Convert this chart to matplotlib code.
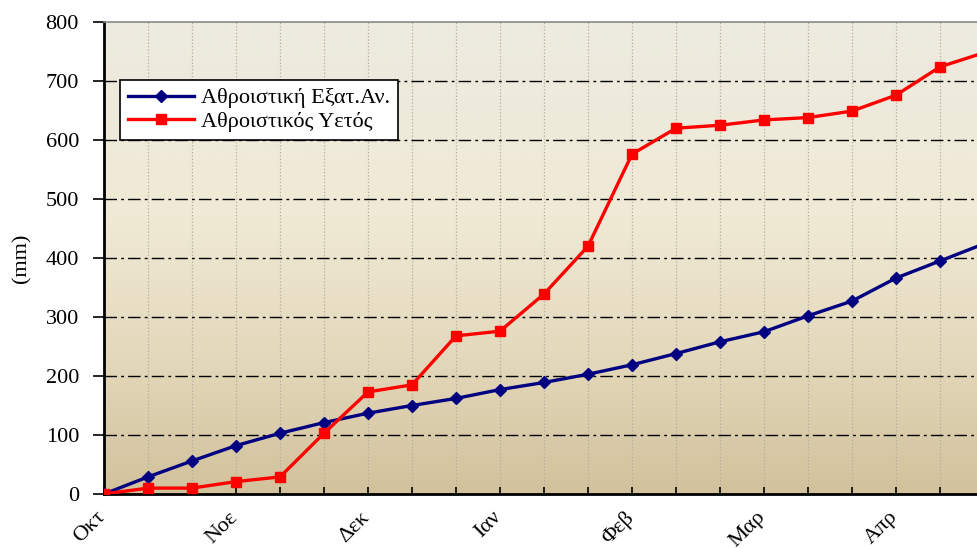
import numpy as np
import matplotlib
matplotlib.use('Agg')
import matplotlib.pyplot as plt
from matplotlib.colors import LinearSegmentedColormap
from matplotlib.transforms import ScaledTranslation

# cumulative values, one point every 10 days from 1 Oct
evap = [0, 29, 56, 82, 103, 121, 137, 150, 162, 177, 189, 203, 219, 238,
        258, 275, 302, 327, 366, 395, 424]
rain = [0, 10, 10, 21, 29, 103, 173, 185, 268, 276, 339, 420, 576, 620,
        625, 634, 638, 649, 676, 724, 748]
months = ['Οκτ', 'Νοε', 'Δεκ', 'Ιαν', 'Φεβ', 'Μαρ', 'Απρ']
lbl_evap = 'Αθροιστική Εξατ.Αν.'
lbl_rain = 'Αθροιστικός Υετός'

plt.rcParams['font.family'] = ['Liberation Serif', 'DejaVu Serif']

fig = plt.figure(figsize=(9.77, 5.49), dpi=100)
ax = fig.add_axes([104/977, 55/549, 873/977, 472/549])

x = np.arange(len(evap))
xmax = 873/44.0

# background gradient
cmap = LinearSegmentedColormap.from_list('bg', [(0.0, '#D2C29C'), (0.3, '#E4D9BC'),
                                                (0.6, '#F0EAD6'), (1.0, '#EDEAE0')])
grad = np.linspace(0, 1, 256).reshape(-1, 1)
ax.imshow(grad, extent=[0, xmax, 0, 800], origin='lower', aspect='auto',
          cmap=cmap, zorder=0)

for xi in x[1:]:
    ax.axvline(xi, color='#B5AE9E', linestyle=':', linewidth=0.9, zorder=1)
for yv in range(100, 800, 100):
    ax.axhline(yv, color='black', linestyle=(0, (9, 3, 2, 3)), linewidth=1.0, zorder=1)

ax.plot(x, evap, color='#000080', marker='D', markersize=6.5, linewidth=2.4,
        label=lbl_evap, zorder=3)
ax.plot(x, rain, color='#FF0000', marker='s', markersize=7, linewidth=2.4,
        label=lbl_rain, zorder=4)

ax.set_xlim(0, xmax)
ax.set_ylim(0, 800)
ax.set_yticks(range(0, 801, 100))
ax.set_xticks(x[:20])
ax.set_xticklabels([months[i // 3] if i % 3 == 0 else '' for i in range(20)],
                   rotation=45, ha='right', va='top', rotation_mode='anchor')
ax.tick_params(axis='x', direction='in', length=5, width=1.2, labelsize=16, pad=10)
ax.tick_params(axis='y', direction='out', length=8, width=1.2, labelsize=16, pad=10)
shift = ScaledTranslation(-8/100, 0, fig.dpi_scale_trans)
for t in ax.get_xticklabels():
    t.set_transform(t.get_transform() + shift)

ax.spines['right'].set_visible(False)
ax.spines['top'].set_color('#888888')
ax.spines['top'].set_linewidth(1.2)
ax.spines['left'].set_linewidth(2)
ax.spines['bottom'].set_linewidth(2)

ax.set_ylabel('(mm)', fontsize=16, labelpad=10)

leg = ax.legend(loc='upper left', bbox_to_anchor=(16/873, 1 - 58/472),
                fontsize=16, frameon=True, fancybox=False, edgecolor='black',
                framealpha=1, handlelength=3.0, borderpad=0.35, labelspacing=0.15,
                handletextpad=0.3, borderaxespad=0)
leg.get_frame().set_linewidth(1.2)

fig.savefig('out.png', dpi=100)
